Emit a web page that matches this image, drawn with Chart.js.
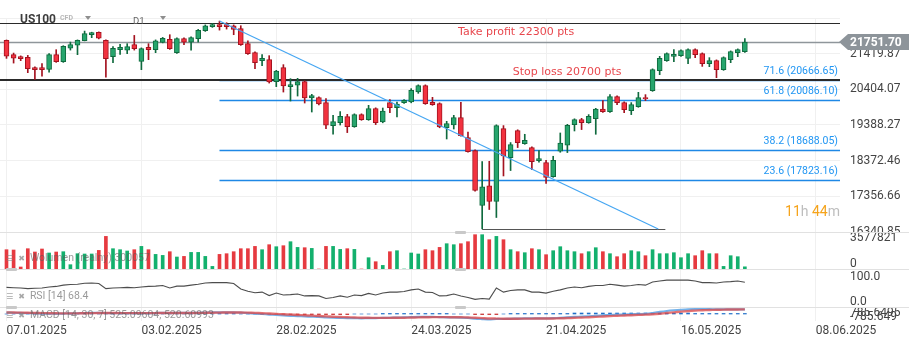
<!DOCTYPE html>
<html>
<head>
<meta charset="utf-8">
<title>US100 D1</title>
<script src="https://cdn.jsdelivr.net/npm/chart.js"></script>
<style>
  html, body { margin: 0; padding: 0; background: #fff; }
  #board { position: relative; width: 909px; height: 346px; overflow: hidden; background: #fff; font-family: Roboto, sans-serif; }
  #board canvas { position: absolute; left: 0; }
  .sep { position: absolute; left: 0; width: 909px; height: 1px; background: #e1e1e1; }
  .grip { position: absolute; width: 11px; height: 3px; border-radius: 1px; background: #c9c9c9; }
  .pane { position: absolute; left: 6px; height: 14px; line-height: 14px; font-size: 10.5px; color: rgba(90, 90, 90, 0.62); white-space: nowrap; }
  .pane i { font-style: normal; font-family: "DejaVu Sans", sans-serif; font-size: 8px; color: rgba(130, 130, 130, 0.7); margin-right: 5px; }
  .abs { position: absolute; white-space: nowrap; line-height: 1; }
  .caret { position: absolute; width: 0; height: 0; border-left: 3px solid transparent; border-right: 3px solid transparent; border-top: 4px solid #8e8e8e; }
</style>
</head>
<body>
<div id="board">
  <canvas id="priceChart" width="909" height="232" style="top:0"></canvas>
  <canvas id="volumeChart" width="909" height="37" style="top:232px"></canvas>
  <canvas id="rsiChart" width="909" height="38" style="top:269px"></canvas>
  <canvas id="macdChart" width="909" height="39" style="top:307px"></canvas>

  <div class="sep" style="top:232px"></div>
  <div class="sep" style="top:269px"></div>
  <div class="sep" style="top:307px"></div>
  <div class="grip" style="left:455px;top:231px"></div>
  <div class="grip" style="left:455px;top:268px"></div>
  <div class="grip" style="left:455px;top:306px"></div>
  <div class="grip" style="left:6px;top:268px"></div>
  <div class="grip" style="left:6px;top:306px"></div>

  <div class="abs" style="left:20px;top:12.5px;font-size:12px;font-weight:bold;color:#3d3d3d">US100</div>
  <div class="abs" style="left:60px;top:15px;font-size:7px;font-weight:bold;color:#b8b8b8">CFD</div>
  <div class="caret" style="left:85px;top:16px"></div>
  <div class="abs" style="left:133px;top:16px;font-size:9.5px;color:#666">D1</div>
  <div class="caret" style="left:160px;top:16px"></div>

  <div class="pane" id="volTitle" style="top:251px"></div>
  <div class="pane" id="rsiTitle" style="top:289px"></div>
  <div class="pane" id="macdTitle" style="top:308px"></div>
</div>

<script>
// daily candles, one per trading day from 07.01.2025
const open = [
  21798, 21391, 21334, 21314, 21021, 21021, 20973, 21391, 21192, 21579,
  21664, 21789, 21960, 22026, 21798, 21334, 21533, 21522, 21676, 21200,
  21599, 21533, 21741, 21826, 21448, 21846, 21750, 21846, 22074, 22188,
  22245, 22245, 22216, 22131, 21704, 21448, 21220, 21249, 20623, 21021,
  20481, 20526, 20623, 20156, 20168, 20026, 19371, 19457, 19627, 19343,
  19684, 19542, 19855, 19474, 20026, 19883, 20026, 20043, 20327, 20509,
  20034, 19997, 19314, 19388, 19599, 19030, 18660, 17095, 17653, 17209,
  19286, 18461, 19229, 18859, 18745, 18375, 18319, 17920, 18640, 18811,
  19400, 19542, 19457, 19570, 19844, 19770, 20196, 20026, 19798, 19912,
  20168, 20367, 20936, 21220, 21343, 21363, 21286, 21533, 21420, 21135,
  21220, 20964, 21249, 21448, 21476
];
const high = [
  21810, 21437, 21357, 21371, 21044, 21135, 21420, 21533, 21647, 21750,
  21812, 22063, 22031, 22040, 21812, 21619, 21684, 21704, 21940, 21585,
  21704, 21812, 21883, 21960, 21869, 21869, 21898, 22111, 22239, 22282,
  22347, 22302, 22239, 22216, 21789, 21471, 21391, 21363, 20945, 21107,
  20708, 20717, 20646, 20262, 20191, 20139, 19664, 19770, 19693, 19707,
  19707, 19949, 19878, 19872, 20111, 20043, 20111, 20424, 20532, 20532,
  20176, 20020, 19493, 19664, 20034, 19189, 18683, 18347, 18355, 19394,
  19371, 18888, 19252, 19124, 18768, 18660, 18384, 18498, 19161, 19408,
  19565, 19579, 19684, 19863, 20083, 20253, 20219, 20048, 20026, 20319,
  20253, 20987, 21343, 21442, 21533, 21528, 21556, 21556, 21442, 21306,
  21243, 21329, 21499, 21556, 21846
];
const low = [
  21286, 21152, 21220, 20879, 20688, 20782, 20896, 21172, 21172, 21522,
  21391, 21784, 21875, 21841, 20754, 21164, 21400, 21420, 21522, 20964,
  21249, 21448, 21727, 21542, 21428, 21676, 21522, 21750, 22054, 22168,
  22091, 22120, 21960, 21656, 21400, 20993, 21078, 20583, 20481, 20327,
  20071, 20213, 20014, 19758, 19963, 19286, 19124, 19388, 19172, 19323,
  19522, 19522, 19400, 19451, 19741, 19616, 20006, 20020, 20290, 19977,
  19949, 19309, 18990, 19274, 19067, 18612, 17502, 16430, 16981, 16754,
  17937, 18091, 18745, 18839, 18119, 18327, 17721, 17900, 18612, 18603,
  19218, 19258, 19437, 19124, 19750, 19750, 19969, 19741, 19684, 19892,
  20083, 20347, 20822, 21201, 21192, 21343, 21135, 21306, 21058, 21050,
  20737, 20945, 21164, 21334, 21457
];
const close = [
  21351, 21294, 21277, 20993, 20964, 20964, 21391, 21192, 21627, 21676,
  21798, 21989, 22017, 21863, 21277, 21570, 21599, 21619, 21562, 21562,
  21533, 21789, 21855, 21562, 21846, 21750, 21875, 22082, 22216, 22245,
  22188, 22188, 22111, 21676, 21420, 21164, 21286, 20612, 20925, 20498,
  20538, 20623, 20156, 20225, 19986, 19380, 19485, 19636, 19343, 19684,
  19542, 19855, 19457, 19787, 19883, 19986, 20091, 20375, 20509, 19997,
  19969, 19331, 19428, 19599, 19087, 18631, 17522, 17624, 17209, 19371,
  18506, 18831, 18888, 18953, 18347, 18432, 17892, 18384, 18876, 19380,
  19542, 19457, 19636, 19844, 19770, 20196, 20026, 19826, 19969, 20168,
  20139, 20964, 21286, 21420, 21400, 21505, 21533, 21391, 21135, 21220,
  20964, 21306, 21476, 21533, 21751.70
];
const volume = [
  2656000, 2614000, 275000, 2793000, 2339000, 2752000, 2202000, 2339000, 2380000, 592000,
  2105000, 2064000, 2064000, 2559000, 4486000, 2793000, 2656000, 2477000, 2656000, 3110000,
  2656000, 2009000, 1871000, 2380000, 1651000, 1734000, 2284000, 2284000, 1734000, 358000,
  2009000, 2105000, 2380000, 2793000, 2793000, 3110000, 2656000, 3344000, 3068000, 3206000,
  3756000, 2972000, 2931000, 2835000, 0, 3110000, 3110000, 2697000, 2793000, 2697000,
  0, 1555000, 1004000, 495000, 2380000, 2518000, 0, 2202000, 2064000, 2656000,
  2518000, 2972000, 3481000, 3344000, 3481000, 3756000, 4720000, 4720000, 4032000, 4486000,
  4032000, 2656000, 2380000, 2243000, 2793000, 2656000, 1968000, 2518000, 3068000, 2518000,
  2380000, 2105000, 2380000, 2931000, 2380000, 2105000, 1692000, 2105000, 2518000, 2380000,
  1830000, 2656000, 2105000, 2105000, 2243000, 1555000, 2105000, 1830000, 2518000, 2105000,
  2105000, 358000, 1830000, 1692000, 300057
];
const rsi = [
  52, 51, 50, 48, 49, 50, 53, 55, 59, 61,
  62, 65, 66, 64, 48, 50, 51, 52, 51, 53,
  55, 56, 58, 50, 56, 56, 59, 62, 66, 67,
  67, 67, 64, 47, 40, 35, 37, 26, 34, 28,
  29, 31, 25, 26, 25, 17, 20, 25, 21, 28,
  26, 33, 28, 34, 37, 37, 39, 44, 47, 37,
  36, 25, 26, 31, 25, 20, 14, 17, 15, 50,
  37, 42, 44, 44, 37, 37, 34, 40, 44, 50,
  53, 51, 55, 58, 58, 62, 59, 56, 58, 61,
  59, 69, 72, 75, 75, 75, 75, 72, 67, 67,
  66, 69, 70, 72, 68.4
];
const macd = [
  160, 140, 120, 95, 70, 50, 45, 40, 55, 70,
  85, 110, 130, 140, 110, 100, 95, 95, 95, 100,
  100, 110, 120, 115, 120, 120, 125, 140, 160, 180,
  190, 195, 185, 150, 100, 40, 0, -60, -110, -160,
  -200, -230, -270, -300, -330, -390, -420, -440, -470, -470,
  -480, -460, -460, -440, -420, -400, -380, -350, -320, -320,
  -320, -350, -370, -370, -400, -440, -520, -570, -620, -560,
  -560, -540, -520, -500, -500, -490, -500, -470, -430, -380,
  -330, -290, -250, -200, -160, -110, -80, -60, -40, -10,
  10, 100, 230, 340, 420, 480, 530, 550, 545, 540,
  530, 525, 528, 530, 525.09604
];
const macdSignal = [
  170, 162, 151, 137, 120, 102, 88, 76, 71, 70,
  74, 83, 96, 107, 108, 106, 103, 101, 100, 100,
  100, 103, 107, 109, 112, 114, 117, 123, 132, 144,
  155, 165, 170, 165, 149, 122, 92, 54, 13, -30,
  -72, -112, -151, -188, -224, -265, -304, -338, -371, -396,
  -417, -428, -436, -437, -433, -425, -414, -398, -379, -364,
  -353, -352, -356, -360, -370, -388, -421, -458, -499, -514,
  -526, -530, -528, -521, -516, -510, -507, -498, -481, -456,
  -425, -391, -357, -318, -278, -236, -197, -163, -132, -102,
  -74, -30, 35, 111, 188, 261, 328, 384, 423, 445,
  470, 490, 503, 512, 520.60993
];
const macdHist = [
  0, 0, 0, 0, 0, 0, 0, 0, 0, 0,
  0, 0, 0, 0, 0, 0, 0, 0, 0, 0,
  0, 0, 0, 0, 0, 0, 0, 0, 0, 0,
  60, 60, 60, 0, 0, 0, -60, -60, -60, -60,
  -60, -60, -60, -60, -60, -60, -60, -60, -60, 0,
  0, 0, 0, 60, 60, 60, 60, 60, 60, 60,
  60, 60, 60, 0, 0, 0, -60, -60, -60, -60,
  0, 60, 60, 60, 60, 60, 60, 60, 60, 60,
  110, 110, 110, 110, 110, 110, 110, 110, 110, 110,
  110, 110, 110, 110, 110, 110, 110, 60, 60, 60,
  60, 60, 60, 60, 60
];

// axis ticks
const priceTicks = [16340.85, 17356.66, 18372.46, 19388.27, 20404.07, 21419.87, 22435.68];
const volumeTicks = [0, 3577821];
const rsiTicks = [0, 100];
const macdTicks = [-785.6495, 785.6495];
const dateLabels = ['07.01.2025', '03.02.2025', '28.02.2025', '24.03.2025', '21.04.2025', '16.05.2025', '08.06.2025'];
const dateTickIndex = [0, 19, 38, 57, 76, 95, 114];

// trade levels and fibonacci retracement
const takeProfit = 22300;
const stopLoss = 20700;
const fibRatios = [71.6, 61.8, 38.2, 23.6];
const fibPrices = [20666.65, 20086.10, 18688.05, 17823.16];
const fibHigh = 22349.0, fibLow = 16425.1;
const fibStartIndex = 30, fibEndIndex = 91.8, lowIndex = 67;

const xMin = -0.915, xMax = 117.4;
const AXIS_W = 69;
const UP = '#27a56d', UP_EDGE = '#0f6a3e', DOWN = '#f2323f', DOWN_EDGE = '#a4121f';
const VOL_UP = '#13b06d', VOL_DOWN = '#e63a40';

const idx = close.map((_, i) => i);
const isUp = close.map((c, i) => c >= open[i]);
const lastClose = close[close.length - 1];

function xScale(withLabels) {
  return {
    type: 'linear', min: xMin, max: xMax, offset: false,
    grid: { color: '#f0f0f0', offset: false, drawTicks: false },
    border: { display: false },
    ticks: {
      display: withLabels, align: 'start', padding: 3, autoSkip: false, maxRotation: 0,
      color: '#444', font: { family: 'Roboto', size: 12 },
      callback: (v, i) => dateLabels[i]
    },
    afterBuildTicks: s => { s.ticks = dateTickIndex.map(v => ({ value: v })); },
    afterFit: s => { s.height = withLabels ? 25 : 0; s.paddingLeft = 0; s.paddingRight = 0; }
  };
}

function yScale(min, max, ticks, fmt, showGrid, labelOffset) {
  return {
    position: 'right', min, max,
    grid: { display: showGrid, color: '#f0f0f0', drawTicks: false },
    border: { display: false },
    ticks: {
      padding: 10, autoSkip: false, labelOffset: labelOffset || 0,
      color: '#444', font: { family: 'Roboto', size: 12 }, callback: fmt
    },
    afterBuildTicks: s => { s.ticks = ticks.map(v => ({ value: v })); },
    afterFit: s => { s.width = AXIS_W; s.paddingTop = 0; s.paddingBottom = 0; }
  };
}

// value scale used only to place the data, the labelled scale sits beside it
function dataScale(min, max) {
  return { display: false, min, max };
}

const baseOptions = {
  responsive: false, animation: false, events: [],
  plugins: { legend: { display: false }, tooltip: { enabled: false } },
  layout: { padding: 0 }
};

// lines, labels and price tag on the price pane
const levelsPlugin = {
  id: 'levels',
  beforeDatasetsDraw(chart) {
    const { ctx, chartArea: a, scales: { x, y } } = chart;
    const hline = (price, x0, x1, color, w) => {
      const py = Math.round(y.getPixelForValue(price)) + (w > 1.5 ? 1 : 0.5);
      ctx.strokeStyle = color; ctx.lineWidth = w;
      ctx.beginPath(); ctx.moveTo(x0, py); ctx.lineTo(x1, py); ctx.stroke();
    };
    ctx.save();
    const fx = x.getPixelForValue(fibStartIndex);
    fibPrices.forEach(p => hline(p, fx, a.right, '#1e88e5', 1.3));
    hline(takeProfit, a.left, a.right, '#2a2a2a', 1.2);
    hline(lastClose, a.left, a.right, '#8f969b', 1.4);
    hline(stopLoss, a.left, a.right, '#2a2a2a', 2);
    hline(fibLow, x.getPixelForValue(lowIndex), x.getPixelForValue(fibEndIndex + 1), '#555', 1.2);
    ctx.restore();
  },
  afterDatasetsDraw(chart) {
    const { ctx, chartArea: a, scales: { x, y } } = chart;
    ctx.save();
    ctx.strokeStyle = '#45a6f2'; ctx.lineWidth = 1.2;
    ctx.beginPath();
    ctx.moveTo(x.getPixelForValue(fibStartIndex), y.getPixelForValue(fibHigh));
    ctx.lineTo(x.getPixelForValue(fibEndIndex), y.getPixelForValue(fibLow));
    ctx.stroke();

    ctx.textBaseline = 'middle';
    ctx.font = '11px "DejaVu Sans"';
    ctx.fillStyle = '#e8474d';
    ctx.textAlign = 'left';
    ctx.fillText('Take profit ' + takeProfit + ' pts', x.getPixelForValue(63.6), y.getPixelForValue(takeProfit) + 9);
    ctx.fillText('Stop loss ' + stopLoss + ' pts', x.getPixelForValue(71.3), y.getPixelForValue(stopLoss) - 7);

    ctx.font = '10.5px Roboto';
    ctx.fillStyle = '#2196f3';
    ctx.textAlign = 'right';
    fibRatios.forEach((r, i) => {
      ctx.fillText(r.toFixed(1) + ' (' + fibPrices[i].toFixed(2) + ')', a.right - 2, y.getPixelForValue(fibPrices[i]) - 8.7);
    });

    // time left on the current candle
    const segs = [['11', '#f5a31a'], ['h', '#bdbdbd'], [' 44', '#f5a31a'], ['m', '#bdbdbd']];
    ctx.font = '14px Roboto';
    ctx.textAlign = 'left';
    let cx = a.right - segs.reduce((s, t) => s + ctx.measureText(t[0]).width, 0);
    segs.forEach(([t, c]) => { ctx.fillStyle = c; ctx.fillText(t, cx, a.bottom - 20); cx += ctx.measureText(t).width; });
    ctx.restore();
  },
  afterDraw(chart) {
    const { ctx, chartArea: a, scales: { y } } = chart;
    const py = y.getPixelForValue(lastClose);
    ctx.save();
    ctx.fillStyle = '#8d949a';
    ctx.beginPath();
    ctx.moveTo(a.right - 1, py);
    ctx.lineTo(a.right + 8, py - 8);
    ctx.lineTo(chart.width, py - 8);
    ctx.lineTo(chart.width, py + 8);
    ctx.lineTo(a.right + 8, py + 8);
    ctx.closePath();
    ctx.fill();
    ctx.fillStyle = '#fff';
    ctx.font = 'bold 12px Roboto';
    ctx.textAlign = 'left';
    ctx.textBaseline = 'middle';
    ctx.fillText(lastClose.toFixed(2), a.right + 10, py + 0.5);
    ctx.restore();
  }
};

new Chart(document.getElementById('priceChart'), {
  type: 'bar',
  data: {
    datasets: [
      {
        data: idx.map(i => ({ x: i, y: [open[i], close[i]] })),
        backgroundColor: isUp.map(u => u ? UP : DOWN),
        borderColor: isUp.map(u => u ? UP_EDGE : DOWN_EDGE),
        borderWidth: 1, borderSkipped: false, barThickness: 5, grouped: false
      },
      {
        data: idx.map(i => ({ x: i, y: [low[i], high[i]] })),
        backgroundColor: isUp.map(u => u ? UP_EDGE : DOWN_EDGE),
        borderWidth: 0, barThickness: 1, grouped: false
      }
    ]
  },
  options: {
    ...baseOptions,
    layout: { padding: { top: 18, left: 0, right: 0, bottom: 0 } },
    scales: {
      x: xScale(false),
      y: yScale(priceTicks[0], priceTicks[priceTicks.length - 1], priceTicks,
        (v, i, t) => i === t.length - 1 ? '' : v.toFixed(2), true)
    }
  },
  plugins: [levelsPlugin]
});

new Chart(document.getElementById('volumeChart'), {
  type: 'bar',
  data: {
    datasets: [{
      data: idx.map(i => ({ x: i, y: volume[i] })),
      backgroundColor: isUp.map(u => u ? VOL_UP : VOL_DOWN),
      borderWidth: 0, barThickness: 3, grouped: false
    }]
  },
  options: {
    ...baseOptions,
    scales: {
      x: xScale(false),
      y: yScale(0, 5090000, volumeTicks, v => String(v), false, -5)
    }
  }
});

new Chart(document.getElementById('rsiChart'), {
  type: 'line',
  data: {
    datasets: [{
      data: idx.map(i => ({ x: i, y: rsi[i] })),
      borderColor: '#4d4d4d', borderWidth: 1.1, pointRadius: 0, tension: 0, fill: false
    }]
  },
  options: {
    ...baseOptions,
    scales: {
      x: xScale(false),
      y: dataScale(-10, 110),
      yLabels: yScale(-21.2, 130.8, rsiTicks, v => v.toFixed(1), false)
    }
  }
});

new Chart(document.getElementById('macdChart'), {
  type: 'bar',
  data: {
    datasets: [
      {
        type: 'line',
        data: idx.map(i => ({ x: i, y: macdSignal[i] })),
        borderColor: 'rgba(222, 70, 70, 0.75)', borderWidth: 2.4, pointRadius: 0, tension: 0.2
      },
      {
        type: 'line',
        data: idx.map(i => ({ x: i, y: macd[i] })),
        borderColor: 'rgba(90, 165, 230, 0.85)', borderWidth: 2.2, pointRadius: 0, tension: 0.2
      },
      {
        data: idx.map(i => ({ x: i, y: macdHist[i] })),
        backgroundColor: macdHist.map(h => h >= 0 ? '#1f6fc9' : '#c62828'),
        borderWidth: 0, barThickness: 3, grouped: false
      }
    ]
  },
  options: {
    ...baseOptions,
    scales: {
      x: xScale(true),
      y: dataScale(macdTicks[0], macdTicks[1]),
      yLabels: yScale(-2160, 3330, macdTicks, v => String(v).slice(0, 8), false)
    }
  }
});

// pane captions
const icons = '<i>&#9776;</i><i>&#10006;</i>';
document.getElementById('volTitle').innerHTML = icons + 'Wolumen (realny) ' + volume[volume.length - 1];
document.getElementById('rsiTitle').innerHTML = icons + 'RSI [14] ' + rsi[rsi.length - 1];
document.getElementById('macdTitle').innerHTML = icons + 'MACD [14, 30, 7] ' +
  macd[macd.length - 1].toFixed(5) + ', ' + macdSignal[macdSignal.length - 1].toFixed(5);
</script>
</body>
</html>
